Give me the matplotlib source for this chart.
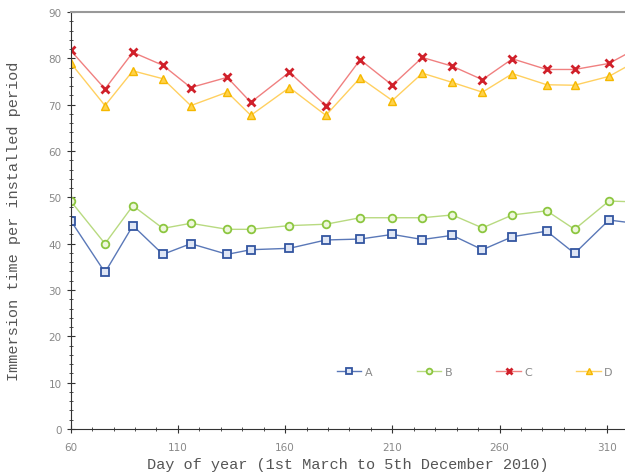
import numpy as np
import matplotlib
matplotlib.use('Agg')
import matplotlib.pyplot as plt
from matplotlib.ticker import MultipleLocator

# day of year for each survey period
days = [60, 76, 89, 103, 116, 133, 144, 162, 179, 195, 210, 224, 238, 252,
        266, 282, 295, 311, 325]
series_a = [45.0, 33.8, 43.9, 37.7, 40.0, 37.7, 38.7, 39.0, 40.8, 41.0, 42.0,
            40.9, 41.8, 38.7, 41.5, 42.7, 37.9, 45.1, 44.3]
series_b = [49.2, 40.0, 48.2, 43.3, 44.4, 43.1, 43.1, 43.9, 44.2, 45.6, 45.6,
            45.6, 46.2, 43.4, 46.2, 47.1, 43.1, 49.2, 49.0]
series_c = [81.7, 73.4, 81.3, 78.5, 73.7, 75.9, 70.5, 77.0, 69.8, 79.7, 74.2,
            80.2, 78.3, 75.4, 79.9, 77.6, 77.6, 78.9, 82.4]
series_d = [79.0, 69.8, 77.3, 75.6, 69.8, 72.7, 67.7, 73.7, 67.7, 75.8, 70.9,
            76.8, 74.8, 72.7, 76.7, 74.3, 74.2, 76.1, 79.7]
labels = ['A', 'B', 'C', 'D']
xticks = [60, 110, 160, 210, 260, 310]

fig = plt.figure(figsize=(6.25, 4.77), dpi=100)
ax = fig.add_axes([0.1131, 0.0985, 0.8869, 0.8742])

ax.plot(days, series_a, color='#5a78b8', lw=1, marker='s', ms=5.5,
        mfc='#dfe6f5', mec='#3355a0', mew=1.3, label=labels[0])
ax.plot(days, series_b, color='#b8da80', lw=1, marker='o', ms=5.5,
        mfc='#eef7dc', mec='#8cc63f', mew=1.3, label=labels[1])
ax.plot(days, series_c, color='#f08080', lw=1, marker='x', ms=5.5,
        mec='#d0202a', mew=2.0, label=labels[2])
ax.plot(days, series_d, color='#ffd060', lw=1, marker='^', ms=5.5,
        mfc='#ffd24a', mec='#f5b800', mew=1, label=labels[3])

ax.set_xlim(60, 318.5)
ax.set_ylim(0, 90)
ax.set_xticks(xticks)
ax.set_xticks(np.arange(60, 320, 10), minor=True)
ax.yaxis.set_major_locator(MultipleLocator(10))
ax.yaxis.set_minor_locator(MultipleLocator(2))
ax.tick_params(which='both', direction='inout', colors='#333333',
               labelcolor='#888888', labelsize=7.5, top=False, right=False)
ax.tick_params(which='major', length=6)
ax.tick_params(which='minor', length=3)
ax.tick_params(axis='x', pad=6)

ax.spines['right'].set_visible(False)
ax.spines['top'].set_color('#999999')
ax.spines['top'].set_linewidth(1.5)
ax.spines['left'].set_color('#333333')
ax.spines['bottom'].set_color('#333333')

mono = 'Liberation Mono'
ax.set_xlabel('Day of year (1st March to 5th December 2010)',
              family=mono, fontsize=11, color='#555555', labelpad=4)
ax.set_ylabel('Immersion time per installed period',
              family=mono, fontsize=11, color='#555555', labelpad=20)

ax.legend(loc='center left', bbox_to_anchor=(0.462, 0.137), ncol=4,
          frameon=False, handlelength=2.2, handletextpad=0.3,
          columnspacing=4.0, fontsize=8, labelcolor='#888888',
          markerscale=0.75)

fig.savefig('out.png', dpi=100)
